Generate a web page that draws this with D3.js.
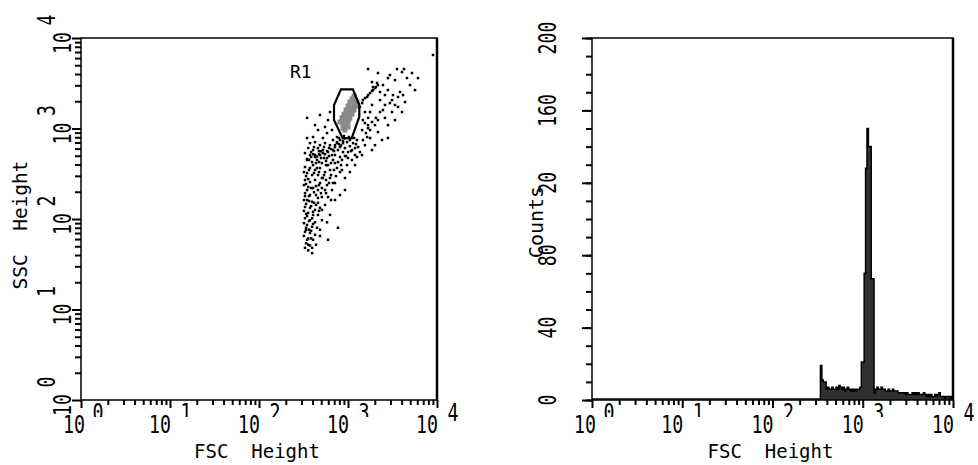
<!DOCTYPE html>
<html>
<head>
<meta charset="utf-8">
<script src="https://cdn.jsdelivr.net/npm/d3@7"></script>
<style>
  body { margin: 0; background: #fff; }
  svg { display: block; }
  text { font-family: "DejaVu Sans Mono", "Liberation Mono", monospace; fill: #000; }
</style>
</head>
<body>
<svg id="chart" width="978" height="465"></svg>
<script>
// ---- Scatter: FSC Height vs SSC Height (linear units, log axes) ----
const scatterEvents = [
  [1680,4540],[2170,4100],[3550,4540],[4040,4210],[4260,4540],[2810,3610],[4600,3610],[6120,3610],
  [9020,6490],[1860,3260],[2120,3180],[1910,2870],[2960,3900],[3370,3430],[5240,4100],[2470,3020],
  [1360,1730],[1440,1910],[1470,2060],[1550,2170],[1640,2230],[1680,2340],[1770,2460],[1860,2600],
  [1910,2660],[2010,2800],[2060,2870],[2170,3020],
  [2810,2660],[3200,2340],[3650,2230],[4370,1960],[2960,1910],[3650,1730],[4040,1520],[2600,1820],
  [2470,1600],[3120,1520],[2170,1240],[1770,1520],[1550,1520],[1470,1240],[1770,960],[1640,805],
  [2810,785],[2410,746],[2010,655],[1770,785],[1440,960],[1470,746],[2290,2060],[3370,1820],
  [2600,1310],[2010,1090],[1860,1820],[1680,1090],[2170,913],[1550,655],[1860,578],[1300,624],
  [1360,549],[1200,509],[1680,1310],[2290,2530],
  [2600,2340],[3120,2060],[3840,2530],[4970,3020],[3370,1240],[2810,1090],[2290,1520],[4150,2340],
  [5660,2660],[1550,1150],[1680,1010],[1860,1180],[2060,1310],[1590,890],
  [347,1310],[484,1410],[596,1240],[552,1040],[460,962],[661,962],[405,805],[347,785],
  [523,785],[752,805],[628,1520],[581,890],[426,1090],
  [678,746],[752,707],[813,746],[879,689],[975,707],[1050,746],[1140,689],[1260,746],
  [714,655],[813,624],[925,608],[1050,638],[1200,608],[771,578],[879,549],[1000,549],
  [1110,578],[714,509],[813,484],[925,496],[678,449],[771,426],[856,449],[1000,472],
  [925,780],[879,727],[834,650],[791,672],[752,690],[714,624],[678,580],[644,593],
  [612,610],[581,563],[552,520],[523,535],[497,560],[472,521],[448,490],[426,509],
  [405,520],[385,484],[365,450],[347,460],
  [374,689],[426,707],[484,655],[552,689],[628,655],[357,608],[405,578],[460,608],
  [523,578],[596,549],[329,535],[374,509],[426,484],[484,509],[581,472],[661,509],
  [347,449],[395,426],[448,449],[509,415],[596,394],[714,415],[329,375],[374,366],
  [426,348],[484,366],[552,330],[628,348],[752,366],[347,322],[395,306],[460,306],
  [523,284],[628,284],[813,330],[329,270],[374,256],[426,270],[484,250],[581,237],
  [714,250],[925,284],[357,226],[405,220],[460,209],[552,209],[661,209],[329,193],
  [374,184],[437,184],[509,175],[596,175],[1050,330],[1200,394],
  [320,330],[338,298],[357,277],[320,237],[347,209],[365,179],[320,162],[338,147],
  [385,139],[320,123],[347,108],[395,102],[320,90],[338,80],[365,76],[320,65],
  [347,59],[385,61],[329,48],[357,45],[405,120],[437,143],[460,171],[415,198],
  [472,237],[509,284],[448,366],[405,394],[472,426],[538,472],[566,394],[509,220],
  [566,270],[644,306],[678,250],[733,298],[856,348],[975,394],[1108,449],[1262,484],
  [1437,509],[484,65],[437,52],[644,162],[509,126],[581,92],
  [347,162],[395,155],[460,151],[329,136],[374,133],[426,126],[484,133],[552,143],
  [357,117],[405,111],[460,111],[329,102],[374,97],[426,92],[509,97],[347,86],
  [395,82],[448,80],[329,72],[374,70],[426,67],[357,61],[405,59],[338,54],
  [374,51],[395,42],[596,59],[771,80],[484,76],[628,111],[714,162],[813,184],[925,209],
  [415,624],[472,563],[538,624],[612,496],[696,563],[385,549],[437,415],[497,472],
  [566,438],[644,415],[365,348],[415,322],[472,330],[538,306],[612,250],[696,348],
  [338,244],[385,220],[437,231],[497,193],[566,193],[329,179],[365,158],[415,151],
  [472,123],[338,114],[365,95],[405,88],[338,76],[385,74],[357,52],[395,48],
  [791,785],[901,825],[1025,805],[1168,785],[1230,672],[1080,563],[949,496],[834,394]
];

// Events inside the R1 gate (shaded)
const gatedEvents = [
  [813,1180],[879,1120],[949,1060],[856,1310],[925,1240],[1000,1180],[901,1440],[975,1370],
  [1050,1310],[949,1600],[1025,1520],[1110,1440],[1000,1770],[1080,1680],[1170,1600],[1050,1960],
  [1140,1860],[1230,1770],[1110,2120],[1200,2060],[1260,1960],[879,1010],[925,962],[1000,1040],
  [1170,2280],[901,1340],[1025,1270],[1110,1640],[975,1560],[1200,1860]
];

// R1 gate vertices (FSC, SSC)
const gateR1 = [
  [834,2710],[1135,2710],[1340,1815],[1340,1350],[1100,780],[871,780],[696,1240],[696,1815]
];

// ---- Histogram: FSC Height, 256 log channels over 4 decades ----
const histFirstChannel = 162;
const histCounts = [
  19,11,10,10,6,7,6,6,7,6,6,7,6,8,7,6,7,5,6,7,6,5,6,5,6,5,6,6,7,
  21,21,70,128,150,140,140,67,67,
  4,6,7,6,6,7,6,6,5,5,6,5,5,6,5,5,5,
  4,4,4,4,4,3,4,3,3,3,4,3,
  4,3,4,3,3,3,4,3,2,3,2,3,2,2,3,2,3,4,2,2,2,1,2,2,2,1,2
];
const channelsPerDecade = 64;

// Axis ticks
const logMajors = [1, 10, 100, 1000, 10000];
const logExponents = ["0", "1", "2", "3", "4"];
const countTicks = [0, 40, 80, 120, 160, 200];
const countTickLabels = ["0", "40", "80", "20", "160", "200"];
const countMinor = d3.range(0, 201, 10);

const svg = d3.select("#chart");

const logMinors = [];
for (let d = 0; d < 4; d++) for (let m = 2; m <= 9; m++) logMinors.push(m * Math.pow(10, d));

// Panels
const L = { x0: 81, x1: 437, y0: 38, y1: 400 };
const R = { x0: 592, x1: 953, y0: 38, y1: 400 };

const xL = d3.scaleLog().domain([1, 1e4]).range([L.x0, L.x1]);
const yL = d3.scaleLog().domain([1, 1e4]).range([L.y1, L.y0]);
const xR = d3.scaleLog().domain([1, 1e4]).range([R.x0, R.x1]);
const yR = d3.scaleLinear().domain([0, 200]).range([R.y1, R.y0]);

function styleAxis(g) {
  g.select(".domain").remove();
  g.selectAll("line").attr("stroke", "#000").attr("stroke-width", 2);
}

// The raised exponents along the x axes are cut off at the bottom
const defs = svg.append("defs");
defs.append("clipPath").attr("id", "supClip")
  .append("rect").attr("x", 0).attr("y", 0).attr("width", 978).attr("height", 417);
const supLayer = svg.append("g").attr("clip-path", "url(#supClip)");

function tenLabel(x, y, rot) {
  return svg.append("text")
    .attr("transform", `translate(${x},${y})` + (rot ? " rotate(-90)" : ""))
    .attr("text-anchor", "middle").attr("font-size", 25)
    .attr("textLength", 22).attr("lengthAdjust", "spacingAndGlyphs").text("10");
}
function expLabel(parent, x, y, rot, s) {
  return parent.append("text")
    .attr("transform", `translate(${x},${y})` + (rot ? " rotate(-90)" : ""))
    .attr("text-anchor", "middle").attr("font-size", 25)
    .attr("textLength", 11).attr("lengthAdjust", "spacingAndGlyphs").text(s);
}

function logXAxis(scale, P) {
  svg.append("g").attr("transform", `translate(0,${P.y1})`)
    .call(d3.axisBottom(scale).tickValues(logMinors).tickSize(5).tickFormat(""))
    .call(styleAxis);
  svg.append("g").attr("transform", `translate(0,${P.y1})`)
    .call(d3.axisBottom(scale).tickValues(logMajors).tickSize(8).tickFormat(""))
    .call(styleAxis);
  logMajors.forEach((v, i) => {
    const x = scale(v);
    tenLabel(x + (i === 0 ? -7 : -10), 433, false);
    expLabel(i < 4 ? supLayer : svg, x + (i === 0 ? 17 : 16), 421, false, logExponents[i]);
  });
  svg.append("text").attr("x", (P.x0 + P.x1) / 2 - 2).attr("y", 458)
    .attr("text-anchor", "middle").attr("font-size", 19).attr("xml:space", "preserve")
    .text("FSC  Height");
}

function frame(P) {
  svg.append("rect").attr("x", P.x0).attr("y", P.y0)
    .attr("width", P.x1 - P.x0).attr("height", P.y1 - P.y0)
    .attr("fill", "none").attr("stroke", "#000").attr("stroke-width", 1.5);
  svg.append("line").attr("x1", P.x1).attr("x2", P.x1).attr("y1", P.y0).attr("y2", P.y1)
    .attr("stroke", "#000").attr("stroke-width", 2.5);
}

// ---------- Left panel ----------
svg.append("g").attr("transform", `translate(${L.x0},0)`)
  .call(d3.axisLeft(yL).tickValues(logMinors).tickSize(6).tickFormat(""))
  .call(styleAxis);
svg.append("g").attr("transform", `translate(${L.x0},0)`)
  .call(d3.axisLeft(yL).tickValues(logMajors).tickSize(9).tickFormat(""))
  .call(styleAxis);
logMajors.forEach((v, i) => {
  const y = yL(v);
  tenLabel(71, y + 5, true);
  expLabel(svg, 55, y - 18, true, logExponents[i]);
});
svg.append("text").attr("transform", `translate(27,${(L.y0 + L.y1) / 2 + 6}) rotate(-90)`)
  .attr("text-anchor", "middle").attr("font-size", 19.5).attr("xml:space", "preserve")
  .text("SSC  Height");
logXAxis(xL, L);

// Scatter dots
svg.append("g").selectAll("rect").data(scatterEvents).join("rect")
  .attr("x", d => xL(d[0]) - 1.25).attr("y", d => yL(d[1]) - 1.25)
  .attr("width", 2.5).attr("height", 2.5).attr("fill", "#000");
svg.append("g").selectAll("rect").data(gatedEvents).join("rect")
  .attr("x", d => xL(d[0]) - 2.5).attr("y", d => yL(d[1]) - 2.5)
  .attr("width", 5).attr("height", 5).attr("fill", "#8a8a8a");

// Gate R1
svg.append("path")
  .attr("d", d3.line().x(d => xL(d[0])).y(d => yL(d[1])).curve(d3.curveLinearClosed)(gateR1))
  .attr("fill", "none").attr("stroke", "#000").attr("stroke-width", 2.2);
svg.append("text").attr("x", 290).attr("y", 78).attr("font-size", 18).text("R1");

frame(L);

// ---------- Right panel ----------
svg.append("g").attr("transform", `translate(${R.x0},0)`)
  .call(d3.axisLeft(yR).tickValues(countMinor).tickSize(6).tickFormat(""))
  .call(styleAxis);
svg.append("g").attr("transform", `translate(${R.x0},0)`)
  .call(d3.axisLeft(yR).tickValues(countTicks).tickSize(10).tickFormat(""))
  .call(styleAxis);
countTicks.forEach((v, i) => {
  svg.append("text").attr("transform", `translate(556,${yR(v)}) rotate(-90)`)
    .attr("text-anchor", "middle").attr("font-size", 25)
    .attr("textLength", 11 * countTickLabels[i].length).attr("lengthAdjust", "spacingAndGlyphs")
    .text(countTickLabels[i]);
});
svg.append("text").attr("transform", `translate(543,${(R.y0 + R.y1) / 2 + 3}) rotate(-90)`)
  .attr("text-anchor", "middle").attr("font-size", 20).text("Counts");
logXAxis(xR, R);

// Histogram as a filled step outline
const chanValue = c => Math.pow(10, c / channelsPerDecade);
const pts = [[chanValue(histFirstChannel), 0]];
histCounts.forEach((c, k) => {
  const ch = histFirstChannel + k;
  pts.push([chanValue(ch), c]);
  pts.push([chanValue(ch + 1), c]);
});
pts.push([chanValue(histFirstChannel + histCounts.length), 0]);
svg.append("path")
  .attr("d", d3.line().x(d => xR(d[0])).y(d => yR(d[1]))(pts))
  .attr("fill", "#303030").attr("stroke", "#000").attr("stroke-width", 1.5)
  .attr("stroke-linejoin", "miter");
svg.append("line").attr("x1", R.x0).attr("x2", xR(chanValue(histFirstChannel)))
  .attr("y1", R.y1 - 1).attr("y2", R.y1 - 1).attr("stroke", "#000").attr("stroke-width", 1.5);

frame(R);
</script>
</body>
</html>
